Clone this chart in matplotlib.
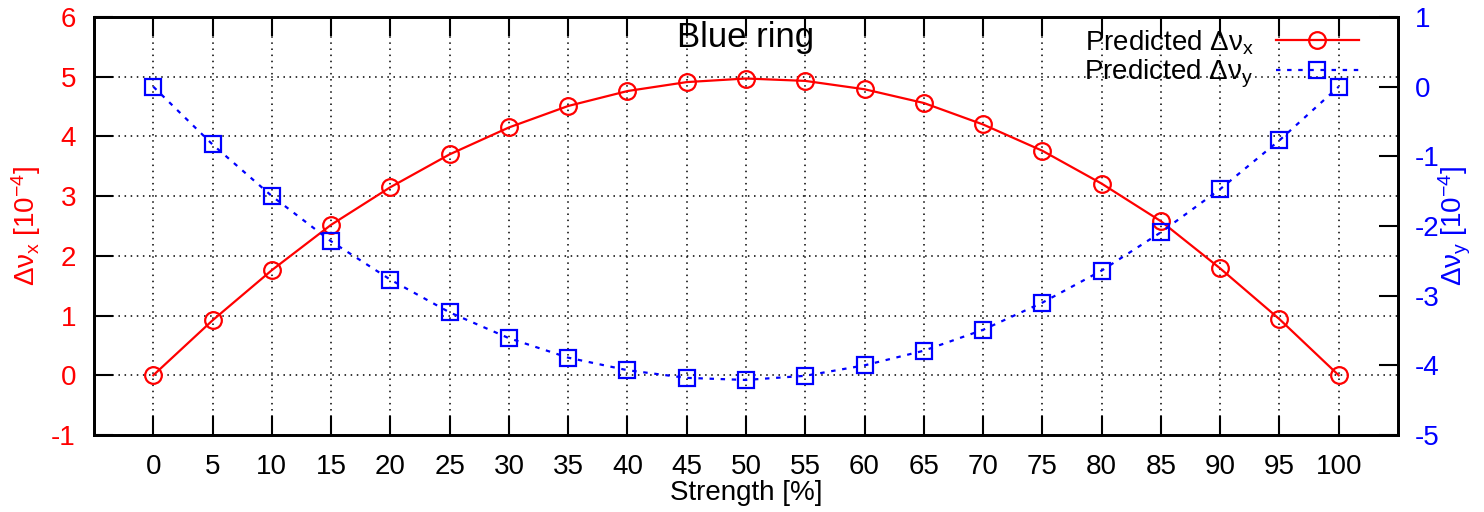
import matplotlib
matplotlib.use('Agg')
import matplotlib.pyplot as plt

plt.rcParams['font.family'] = ['Liberation Sans', 'DejaVu Sans']
plt.rcParams['mathtext.fontset'] = 'custom'
plt.rcParams['mathtext.rm'] = 'Liberation Sans'
plt.rcParams['mathtext.it'] = 'Liberation Sans'
plt.rcParams['axes.unicode_minus'] = False

strength = [0, 5, 10, 15, 20, 25, 30, 35, 40, 45, 50,
            55, 60, 65, 70, 75, 80, 85, 90, 95, 100]
dnu_x = [0.0, 0.92, 1.76, 2.52, 3.15, 3.70, 4.15, 4.51, 4.76, 4.91, 4.97,
         4.93, 4.79, 4.56, 4.20, 3.76, 3.21, 2.58, 1.79, 0.94, 0.0]
dnu_y = [0.0, -0.83, -1.57, -2.22, -2.77, -3.24, -3.61, -3.89, -4.07, -4.18, -4.21,
         -4.15, -4.00, -3.79, -3.49, -3.10, -2.64, -2.09, -1.47, -0.77, 0.0]

x_ticks = list(range(0, 101, 5))
left_ticks = list(range(-1, 7))
right_ticks = list(range(-5, 2))

fs = 20

fig = plt.figure(figsize=(14.84, 5.12), dpi=100)
ax = fig.add_axes([94 / 1484, 77 / 512, 1304 / 1484, 418 / 512])
ax2 = ax.twinx()

ax.set_xlim(-5, 105)
ax.set_ylim(-1, 6)
ax2.set_ylim(-5, 1)

ax.set_xticks(x_ticks)
ax.set_yticks(left_ticks)
ax2.set_yticks(right_ticks)

ax.grid(True, color='black', linestyle=(0, (1, 3)), linewidth=1.1)
ax.set_axisbelow(True)

l1, = ax.plot(strength, dnu_x, color='red', lw=1.6, marker='o', ms=12,
              mfc='none', mec='red', mew=1.6, label=r'Predicted $\Delta\nu_x$')
l2, = ax2.plot(strength, dnu_y, color='blue', lw=1.6, linestyle=(0, (2, 3)),
               marker='s', ms=11, mfc='none', mec='blue', mew=1.6,
               label=r'Predicted $\Delta\nu_y$')

ax.tick_params(axis='x', direction='in', length=14, width=1.5, top=True,
               labelsize=fs, pad=14, colors='black')
ax.tick_params(axis='y', direction='in', length=14, width=1.5,
               labelsize=fs, pad=13, labelcolor='red')
ax2.tick_params(axis='y', direction='in', length=14, width=1.5,
                labelsize=fs, pad=12, labelcolor='blue')

for sp in ax.spines.values():
    sp.set_linewidth(2)
for sp in ax2.spines.values():
    sp.set_linewidth(2)

ax.set_xlabel('Strength [%]', fontsize=fs, labelpad=0)
ax.set_ylabel(r'$\Delta\nu_x$ [10$^{-4}$]', fontsize=fs, color='red', labelpad=6)
ax2.set_ylabel(r'$\Delta\nu_y$ [10$^{-4}$]', fontsize=fs, color='blue', labelpad=-2)

ax.text(0.5, 0.952, 'Blue ring', transform=ax.transAxes, ha='center',
        va='center', fontsize=25)

leg = ax2.legend(handles=[l1, l2], loc='upper right', frameon=False,
                 markerfirst=False, fontsize=fs, handlelength=3.0,
                 labelspacing=0.05, borderaxespad=0.3,
                 bbox_to_anchor=(0.985, 1.02))

fig.savefig('out.png', dpi=100)
